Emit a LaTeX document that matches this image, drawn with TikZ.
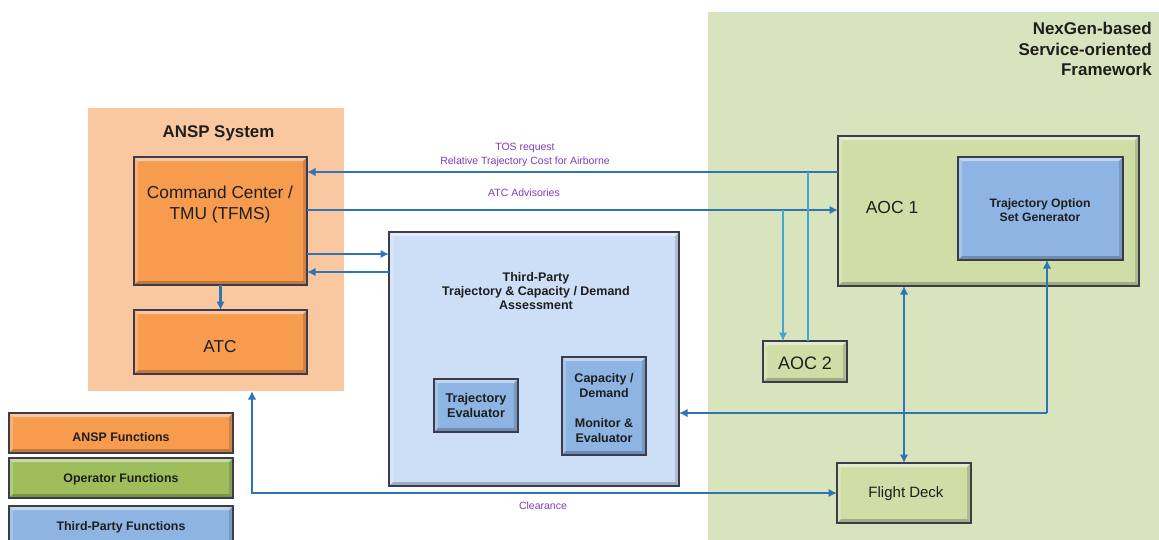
\documentclass[tikz,border=0pt]{standalone}
\usepackage{fontspec}
\setmainfont{Liberation Sans}
\usetikzlibrary{arrows.meta,calc}

\definecolor{anspbg}{HTML}{F9C8A0}
\definecolor{framebg}{HTML}{D8E4BE}
\definecolor{orangeF}{HTML}{F79B4F}
\definecolor{greenF}{HTML}{CFDEA6}
\definecolor{greenD}{HTML}{9DBE5B}
\definecolor{blueL}{HTML}{CDDFF6}
\definecolor{blueM}{HTML}{8DB4E2}
\definecolor{edge}{HTML}{3C3C4C}
\definecolor{link}{HTML}{2E75B6}
\definecolor{linkL}{HTML}{45A5D3}
\definecolor{note}{HTML}{7B3FB9}
\definecolor{ink}{HTML}{1E1E1E}

\newcommand\bevw{4pt}

\tikzset{
  region/.style={fill=#1, draw=none, inner sep=0pt, outer sep=0pt},
  bev/.style={draw=edge, line width=2.1pt, fill=#1, inner sep=0pt, outer sep=0pt,
    path picture={
      \coordinate (pNW) at (path picture bounding box.north west);
      \coordinate (pNE) at (path picture bounding box.north east);
      \coordinate (pSW) at (path picture bounding box.south west);
      \coordinate (pSE) at (path picture bounding box.south east);
      \fill[white,opacity=.45] (pNW) -- (pNE) -- ([xshift=-\bevw,yshift=-\bevw]pNE) -- ([xshift=\bevw,yshift=-\bevw]pNW) -- cycle;
      \fill[white,opacity=.22] (pNW) -- ([xshift=\bevw,yshift=-\bevw]pNW) -- ([xshift=\bevw,yshift=\bevw]pSW) -- (pSW) -- cycle;
      \fill[black,opacity=.22] (pSW) -- (pSE) -- ([xshift=-\bevw,yshift=\bevw]pSE) -- ([xshift=\bevw,yshift=\bevw]pSW) -- cycle;
      \fill[black,opacity=.15] (pNE) -- (pSE) -- ([xshift=-\bevw,yshift=\bevw]pSE) -- ([xshift=-\bevw,yshift=-\bevw]pNE) -- cycle;
    }},
  txt/.style={text=ink, inner sep=0pt, align=center},
  lbl/.style={text=note, inner sep=0pt, align=center, font=\fontsize{10.5}{14}\selectfont},
  arr/.style={draw=link, line width=2.7pt, -{Latex[length=8.5pt,width=8.5pt]}},
  dbl/.style={draw=link, line width=2.7pt, {Latex[length=8.5pt,width=8.5pt]}-{Latex[length=8.5pt,width=8.5pt]}},
  arrL/.style={draw=linkL, line width=2.7pt, -{Latex[length=8.5pt,width=8.5pt]}},
  lineL/.style={draw=linkL, line width=2.7pt},
}

\begin{document}
\begin{tikzpicture}[x=1pt,y=-1pt]
\clip (0,0) rectangle (1159,539);
\fill[white] (0,0) rectangle (1159,539);

% background regions
\node[region=framebg, minimum width=460pt, minimum height=540pt, anchor=north west] (nexgen) at (708,12) {};
\node[region=anspbg, minimum width=256pt, minimum height=283pt, anchor=north west] (ansp) at (88,108) {};

% ANSP side
\node[bev=orangeF, minimum width=173pt, minimum height=128pt, anchor=north west] (cc) at (134,157) {};
\node[bev=orangeF, minimum width=173pt, minimum height=64pt, anchor=north west] (atc) at (134,310) {};

% third-party assessment
\node[bev=blueL, minimum width=290pt, minimum height=254pt, anchor=north west] (tp) at (389,232) {};
\node[bev=blueM, minimum width=84pt, minimum height=53pt, anchor=north west] (te) at (434,379) {};
\node[bev=blueM, minimum width=84pt, minimum height=98pt, anchor=north west] (cd) at (562,357) {};

% operator side
\node[bev=greenF, minimum width=301pt, minimum height=150pt, anchor=north west] (aoc1) at (838,136) {};
\node[bev=blueM, minimum width=165pt, minimum height=103pt, anchor=north west] (tosg) at (958,157) {};
\node[bev=greenF, minimum width=84pt, minimum height=41pt, anchor=north west] (aoc2) at (763,341) {};
\node[bev=greenF, minimum width=134pt, minimum height=60pt, anchor=north west] (fd) at (837,463) {};

% legend
\node[bev=orangeF, minimum width=224pt, minimum height=40pt, anchor=north west] (legA) at (9,413) {};
\node[bev=greenD, minimum width=224pt, minimum height=40pt, anchor=north west] (legO) at (9,458) {};
\node[bev=blueM, minimum width=224pt, minimum height=40pt, anchor=north west] (legT) at (9,506) {};

% connectors
\draw[arr] ([yshift=39pt]aoc1.west) coordinate (tosS) -- (cc.east |- tosS);
\draw[arr] ([yshift=11pt]cc.east) coordinate (advS) -- (aoc1.west |- advS);
\draw[arr] ([yshift=-33pt]cc.east) coordinate (toTP) -- (tp.west |- toTP);
\draw[arr] ([yshift=87pt]tp.west) coordinate (frTP) -- (cc.east |- frTP);
\draw[arr] (cc.south) -- (atc.north);
\draw[arrL] ([xshift=-22pt]aoc2.north |- advS) -- ([xshift=-22pt]aoc2.north);
\draw[lineL] ([xshift=3pt]aoc2.north) -- ([xshift=3pt]aoc2.north |- tosS);
\coordinate (tosFeed) at (1047,413);
\draw[arr] (tosFeed) -- (tosg.south -| tosFeed);
\draw[arr] (tosFeed) -- (tp.east |- tosFeed);
\draw[dbl] (fd.north) -- (fd.north |- aoc1.south);
\coordinate (clrTop) at (252,391);
\draw[dbl] (fd.west) -| (clrTop);

% box texts
\node[txt, font=\bfseries\fontsize{16.9}{19}\selectfont] (anspT) at (218.5,133) {ANSP System};
\node[txt, align=right, anchor=east, font=\bfseries\fontsize{17}{20.5}\selectfont] (nexT) at (1152,49) {NexGen-based\\Service-oriented\\Framework};
\node[txt, font=\fontsize{17.3}{21}\selectfont] (ccT) at (220,205) {Command Center /\\TMU (TFMS)};
\node[txt, font=\fontsize{17.2}{20}\selectfont] (atcT) at (220,347) {ATC};
\node[txt, font=\bfseries\fontsize{12.5}{14.3}\selectfont] (tpT) at (536,291) {Third-Party\\Trajectory \& Capacity / Demand\\Assessment};
\node[txt, font=\bfseries\fontsize{12.7}{15}\selectfont] (teT) at (476,405) {Trajectory\\Evaluator};
\node[txt, font=\bfseries\fontsize{12.5}{15}\selectfont] (cdT) at (604,408.5) {Capacity /\\Demand\\\mbox{}\\Monitor \&\\Evaluator};
\node[txt, font=\fontsize{17.5}{20}\selectfont] (aoc1T) at (892,207) {AOC 1};
\node[txt, font=\bfseries\fontsize{12.2}{14.5}\selectfont] (tosgT) at (1040,210) {Trajectory Option\\Set Generator};
\node[txt, font=\fontsize{18}{20}\selectfont] (aoc2T) at (805,363) {AOC 2};
\node[txt, font=\fontsize{15}{18}\selectfont] (fdT) at (906,494) {Flight Deck};
\node[txt, font=\bfseries\fontsize{12.4}{14}\selectfont] (legAT) at (121,437) {ANSP Functions};
\node[txt, font=\bfseries\fontsize{12.4}{14}\selectfont] (legOT) at (121,479) {Operator Functions};
\node[txt, font=\bfseries\fontsize{12.4}{14}\selectfont] (legTT) at (121,527) {Third-Party Functions};

% connector labels
\node[lbl] (tosL) at (525,155) {TOS request\\Relative Trajectory Cost for Airborne};
\node[lbl] (advL) at (524,193) {ATC Advisories};
\node[lbl] (clrL) at (543,506) {Clearance};
\end{tikzpicture}
\end{document}
